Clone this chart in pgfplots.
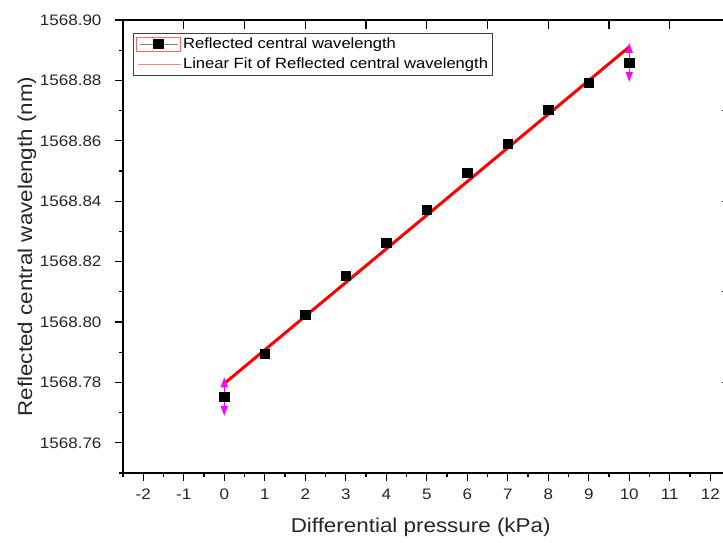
\documentclass[border=0pt]{standalone}
\usepackage{fontspec}
\setmainfont{Liberation Sans}[FakeStretch=1.12]
\usepackage{pgfplots}
\pgfplotsset{compat=1.18}
\usetikzlibrary{arrows.meta}
\definecolor{arrowmag}{RGB}{255,0,255}

% measured data (kPa, nm)
\pgfplotstableread{
x y
0  1568.7753
1  1568.7894
2  1568.8023
3  1568.8152
4  1568.8262
5  1568.8371
6  1568.8493
7  1568.8589
8  1568.8702
9  1568.8791
10 1568.8859
}\wavedata

% arrows at the end points
\pgfplotstableread{
x y u v
0  1568.7753 0 0.0065
0  1568.7753 0 -0.0065
10 1568.8859 0 0.0065
10 1568.8859 0 -0.0065
}\arrowdata

\begin{document}
\begin{tikzpicture}
\begin{axis}[
  scale only axis,
  width=607.5pt, height=453pt,
  xmin=-2.5, xmax=12.5,
  ymin=1568.75, ymax=1568.90,
  xtick={-2,-1,0,1,2,3,4,5,6,7,8,9,10,11,12},
  minor xtick={-2.5,-1.5,-0.5,0.5,1.5,2.5,3.5,4.5,5.5,6.5,7.5,8.5,9.5,10.5,11.5},
  ytick={1568.76,1568.78,1568.80,1568.82,1568.84,1568.86,1568.88,1568.90},
  minor ytick={1568.75,1568.77,1568.79,1568.81,1568.83,1568.85,1568.87,1568.89},
  xtick pos=bottom, ytick pos=left,
  tick align=outside,
  major tick length=8pt, minor tick length=4pt,
  every tick/.style={black, line width=1.2pt},
  axis line style={line width=1.4pt},
  /pgf/number format/assume math mode=true,
  ticklabel style={font=\fontsize{15.2}{18}\selectfont, text=black!85},
  xticklabel style={yshift=-5pt},
  yticklabel style={xshift=-10pt, /pgf/number format/.cd, fixed, fixed zerofill, precision=2, 1000 sep={}},
  xlabel={Differential pressure (kPa)},
  ylabel={Reflected central wavelength (nm)},
  every axis x label/.style={at={(axis description cs:0.49,-0.119)}, anchor=center,
    font=\fontsize{20}{24}\selectfont, text=black!85},
  every axis y label/.style={at={(axis description cs:-0.158,0.5)}, rotate=90, anchor=center,
    font=\fontsize{20}{24}\selectfont, text=black!85},
  legend style={at={(axis description cs:0.0165,0.971)}, anchor=north west,
    draw=black!75, line width=0.8pt, inner xsep=3pt, inner ysep=3pt,
    row sep=5pt, font=\fontsize{14.8}{17}\selectfont,
    nodes={inner sep=1.5pt}},
  legend cell align=left,
]
\addplot[only marks, mark=square*, mark size=4.6pt, black,
  legend image code/.code={
    \draw[red!60, line width=0.8pt] (0pt,-7pt) rectangle (44pt,7pt);
    \draw[gray, line width=1pt] (3pt,0pt) -- (41pt,0pt);
    \fill[black] (17pt,-4.5pt) rectangle (27pt,4.5pt);
  }] table[x=x, y=y] {\wavedata};
\addlegendentry{Reflected central wavelength}

\addplot[red, line width=3pt, no marks,
  legend image code/.code={
    \draw[red!50, line width=1.5pt] (1pt,0pt) -- (44pt,0pt);
  }] coordinates {(0,1568.7796) (10,1568.8911)};
\addlegendentry{Linear Fit of Reflected central wavelength}

\addplot[arrowmag, line width=1.2pt, forget plot,
  -{Triangle[length=10pt, width=7pt]},
  quiver={u=\thisrow{u}, v=\thisrow{v}}] table[x=x, y=y] {\arrowdata};

\coordinate (bl) at (rel axis cs:0,0);
\coordinate (tr) at (rel axis cs:1,1);
\end{axis}

% mirrored ticks on the top and right edges
\begin{axis}[
  scale only axis,
  width=607.5pt, height=453pt,
  xmin=-2.5, xmax=12.5,
  ymin=1568.75, ymax=1568.90,
  axis line style={draw=none},
  xtick={-1,0.5,2,3.5,5,6.5,8,9.5,11},
  ytick={1568.78,1568.81,1568.84,1568.87},
  xticklabels={}, yticklabels={},
  xtick pos=top, ytick pos=right,
  tick align=inside,
  major tick length=9pt,
  every tick/.style={black, line width=1.2pt},
]
\end{axis}

\pgfresetboundingbox
\path[use as bounding box] ([xshift=-123pt,yshift=-70pt]bl) rectangle ([xshift=-7.5pt,yshift=20pt]tr);
\end{tikzpicture}
\end{document}
